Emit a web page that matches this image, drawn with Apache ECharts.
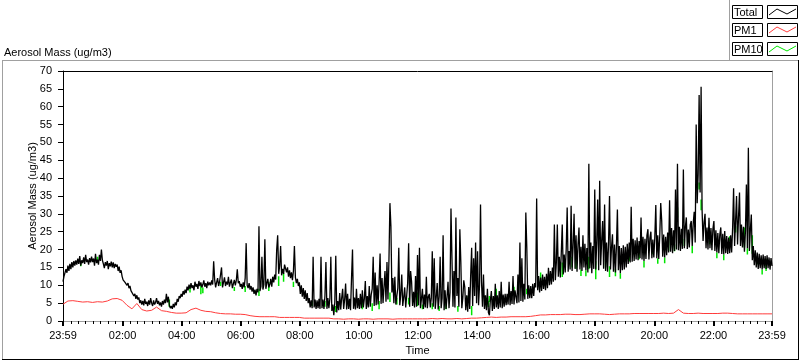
<!DOCTYPE html>
<html>
<head>
<meta charset="utf-8">
<script src="https://cdn.jsdelivr.net/npm/echarts@6/dist/echarts.min.js"></script>
<style>
html,body{margin:0;padding:0;background:#fff;}
#chart{width:800px;height:361px;}
</style>
</head>
<body>
<div id="chart"></div>
<script>
// ---------------- DATA ----------------
// Total aerosol mass, 2-minute samples from 23:59 (t=-1 min) to 23:59 (t=1439 min)
const totalStart = -1;
const totalStep = 2;
const totalValues = [
  // 00h
  11, 12.5, 13, 14.5, 13.5, 15.5, 14, 16, 14.5, 16.5, 15, 16.8, 15.5, 17, 15.8, 17.5, 16, 18.2, 15.5, 17, 16.2, 17.8, 16, 18.5, 16.5, 17.2, 15.8, 17.6, 16.4, 18,
  // 01h
  16.5, 17.5, 15.5, 18.8, 16.2, 17.2, 15.8, 18.5, 16.8, 20, 17, 16, 14.8, 16.5, 15.5, 16.8, 14.5, 16.2, 15.3, 16.6, 15, 16.4, 14.8, 16, 15.2, 15.8, 14, 15.2, 13.5, 14.2,
  // 02h
  12.5, 11.5, 12, 10.8, 11.2, 10, 10.6, 9.2, 9.8, 8.5, 8, 8.8, 7, 7.6, 6.2, 7.2, 6, 6.6, 5, 5.8, 4.6, 5.6, 4.4, 6.2, 4.8, 5.4, 4.2, 5.8, 4.6, 6.4,
  // 03h
  5, 4.2, 5.8, 4.6, 5.2, 6.4, 4.8, 5.6, 4.4, 5.2, 4, 5.6, 4.6, 6, 5, 7.6, 5.2, 6.8, 4.4, 3.6, 4.2, 3.4, 4.8, 3.8, 5.2, 4.4, 6.2, 5.4, 7, 6.4,
  // 04h
  7.6, 6.8, 8.4, 7.4, 8.8, 7.8, 9.6, 8.6, 10.2, 9, 10.6, 9.2, 10, 8.6, 11, 9.6, 10.4, 9, 11.2, 9.8, 10.8, 9.4, 10.2, 11.4, 9.6, 10.6, 9.2, 11, 10, 10.8,
  // 05h
  10, 11.4, 10.2, 16.7, 11.6, 9.4, 10.8, 12, 9.8, 11, 10.6, 15, 9.4, 10.8, 12.2, 9.8, 11, 10.2, 12.4, 9.6, 10.8, 11.6, 9.2, 10.4, 11.5, 10, 11.4, 14.5, 10.6, 11.2,
  // 06h
  9.6, 10.4, 9, 10.8, 9.4, 12, 21.8, 10, 9.2, 10.6, 8.8, 9.8, 8.2, 9.4, 7.6, 8.8, 7.2, 9, 8, 26.5, 8.4, 9.6, 18, 8.8, 10.2, 22.9, 9, 10.6, 11.8, 9.4,
  // 07h
  10.2, 11.8, 9.6, 12.4, 10.8, 13, 11.6, 20, 24, 13.2, 15.4, 21, 12.8, 14.6, 13.2, 15.8, 16, 13.6, 15, 12.4, 14.2, 12, 13.6, 11.4, 14, 21, 12.2, 10.6, 11.8, 9.8,
  // 08h
  10.8, 7.6, 10, 6.8, 9.2, 6.2, 8.6, 5.6, 7.8, 5, 6.4, 3.8, 5.8, 3.6, 18, 3.8, 6, 3.4, 5.8, 3.6, 6.2, 3.4, 18, 3.6, 6, 3.4, 7, 16.5, 3.4, 6.4,
  // 09h
  3.6, 6.2, 18, 2.8, 4.6, 1.6, 5.2, 18.3, 2.4, 5.6, 3, 7.8, 3.2, 6.4, 9, 3.4, 6, 10.5, 3.2, 7.6, 3.4, 6.2, 3, 12, 20, 3.4, 6.6, 3.2, 9, 3.6,
  // 10h
  6.4, 3.4, 7.6, 3.6, 8.6, 3.8, 6.2, 11.2, 3.4, 7, 3.8, 9.8, 4, 7.4, 9, 18, 4.2, 13.6, 4.4, 10, 4.6, 11, 18.9, 4.8, 12, 5, 9.6, 14, 5.4, 16.5,
  // 11h
  6, 17, 33, 26.5, 8, 12, 5, 12.4, 4.6, 7, 9.2, 20.5, 4.4, 7.4, 13, 4.2, 6.6, 9.4, 3.8, 7, 10.6, 21.8, 4, 14, 11, 4.2, 8.2, 3.8, 12.6, 4,
  // 12h
  18.5, 4.4, 20.5, 3.6, 6.2, 9, 3.4, 7.4, 3.8, 12.4, 3.6, 6.8, 7.6, 3.8, 6.4, 19.5, 4, 17.6, 3.4, 6.6, 10.6, 3.2, 6.8, 18, 3.6, 6.4, 24, 3, 8.6, 3.4,
  // 13h
  6.8, 11, 3.6, 8, 31.5, 17.6, 4, 14, 3.8, 29, 7, 12, 4, 25.7, 16.5, 3.6, 6.4, 11.4, 9.5, 3, 7.2, 2.6, 9.5, 3.4, 12.8, 20.5, 4.2, 17.6, 7, 22,
  // 14h
  5, 19.5, 4.4, 10, 32.6, 11, 4, 13, 3.4, 7.2, 3, 9, 2.4, 1.6, 5.8, 8.4, 2.8, 7, 3.4, 10.4, 3.8, 7.2, 3.4, 8.4, 3.8, 11, 3.6, 7.4, 4, 7.6,
  // 15h
  4.4, 7.6, 4.6, 11, 4.4, 8.4, 4.8, 12.6, 4.6, 8.6, 9, 5, 13, 5.2, 22, 5.6, 17.6, 5.4, 10.4, 6, 30.4, 20.5, 6.2, 10, 6.4, 9.8, 6.4, 10.4, 7, 10.6,
  // 16h
  9.4, 34.3, 8.6, 12.6, 8, 12.2, 8.4, 13, 9, 12.4, 8.6, 13.2, 9.2, 14.9, 10, 14, 10.2, 15, 11, 27, 11.4, 16.4, 27, 12.4, 18, 12.2, 19, 27, 13, 18.6,
  // 17h
  13.6, 20, 31.8, 13.8, 19.6, 14.4, 32.3, 14, 21, 30, 14.6, 24, 13.8, 21.4, 26.2, 14.4, 20.8, 14, 24, 15, 21.6, 14.2, 20.4, 13.6, 44, 14.8, 22, 13.4, 21, 14.6,
  // 18h
  36.8, 14.4, 22, 34, 14.2, 39.3, 15.6, 22.4, 28, 14.6, 32.6, 14, 22, 13.8, 21.6, 35, 14.4, 20.6, 24.3, 13.8, 21.4, 13.6, 20.8, 31.2, 14.2, 21, 13.4, 20.4, 14.2, 21.2,
  // 19h
  14.4, 20.8, 15, 21.6, 16, 22, 16.4, 32, 16.6, 23, 16.8, 22.6, 17.2, 23.4, 17, 22.4, 17.6, 29, 17.2, 23.6, 16.8, 23, 17.4, 24, 25.7, 17.2, 23.2, 25, 17.6, 22.8,
  // 20h
  17.8, 23.6, 32.5, 17.6, 24, 17.4, 23.8, 33, 28, 18, 24.2, 17.8, 23.6, 18.4, 24.8, 19.2, 33.8, 19.4, 26, 19, 25.4, 19.6, 36.8, 20, 44, 19.8, 26.4, 19.6, 25.8, 20.2,
  // 21h
  42.4, 20.4, 26.2, 29, 20.2, 25.6, 20.6, 27, 28, 21, 27.4, 30.6, 22, 55, 33, 41, 63.3, 36, 65.6, 31, 22.4, 27.6, 30, 20.4, 26.2, 20, 28.9, 20.4, 26, 19.8,
  // 22h
  25.8, 28, 19.6, 25.4, 19.2, 24.6, 19, 24.2, 26.2, 18.8, 24.4, 18.6, 25.2, 19, 23.8, 18.8, 23.4, 19, 24, 19.2, 26, 37.2, 21, 28, 35, 21.4, 29, 36, 21, 27,
  // 23h
  20.6, 26.4, 19.4, 25, 38.2, 20.4, 48.5, 19.6, 25.4, 29.8, 17, 21, 15.6, 19.8, 15, 19.2, 14.6, 18.8, 14.8, 18.4, 14.4, 18.6, 14.8, 18.2, 14.6, 18.4, 14.8, 17.8, 14.4, 17.6, 15.4
];

// PM1, 10-minute samples from 23:59 to 23:59
const pm1Start = -1;
const pm1Step = 10;
const pm1Values = [
  4.7, 5.6, 5.7, 5.5, 5.3, 5.4, 5.2, 5.4, 5.3, 5.6,
  6.2, 6.3, 5.8, 4.4, 3.4, 4.9, 3.2, 2.8, 3.0, 3.9,
  2.9, 2.7, 2.4, 2.2, 2.2, 2.3, 3.2, 3.6, 3.0, 2.7,
  2.6, 2.3, 2.1, 2.0, 2.0, 1.9, 1.9, 1.8, 1.5, 1.3,
  1.2, 1.2, 1.2, 1.2, 1.0, 1.0, 1.0, 1.0, 1.0, 0.8,
  0.8, 0.8, 0.8, 0.8, 0.8, 0.6, 0.6, 0.5, 0.6, 0.6,
  0.5, 0.6, 0.6, 0.5, 0.6, 0.6, 0.6, 0.5, 0.6, 0.6,
  0.6, 0.6, 0.6, 0.6, 0.6, 0.7, 0.6, 0.7, 0.6, 0.6,
  0.7, 0.6, 0.7, 0.8, 0.8, 0.9, 1.0, 1.1, 1.0, 1.1,
  1.1, 1.2, 1.2, 1.2, 1.2, 1.3, 1.5, 1.7, 1.7, 1.8,
  1.8, 1.8, 1.9, 1.9, 1.8, 1.8, 1.9, 2.0, 2.0, 2.0,
  1.9, 1.8, 1.9, 2.0, 2.0, 2.0, 2.1, 2.1, 2.1, 2.1,
  2.1, 2.1, 2.2, 2.1, 2.2, 3.2, 2.2, 2.1, 2.1, 2.2,
  2.1, 2.1, 2.1, 2.1, 2.2, 2.2, 2.1, 2.0, 2.0, 2.0,
  2.0, 2.0, 2.0, 2.0, 2.0
];

// PM10: where it shows below the Total trace (minute, upper value, lower value)
const pm10Times = [35, 69, 215, 257, 279, 283, 319, 347, 369, 397, 417, 437, 447, 467, 505, 531, 553, 579, 607, 627, 641, 663, 677, 701, 719, 729, 749, 763, 777, 801, 819, 829, 863, 865, 879, 915, 941, 969, 1013, 1033, 1041, 1051, 1061, 1067, 1081, 1101, 1109, 1121, 1131, 1149, 1169, 1179, 1197, 1207, 1221, 1229, 1241, 1247, 1261, 1277, 1291, 1295, 1313, 1327, 1341, 1353, 1365, 1383, 1389, 1399, 1409, 1419, 1427];
const pm10Upper = [16.7, 18, 6, 9.5, 9.8, 9.4, 11, 9.5, 9.8, 9, 10.9, 12.5, 13.4, 11, 5.6, 5.6, 4.2, 5.6, 5.6, 5, 5.6, 8, 6.5, 6.5, 8, 4.6, 5, 4.2, 5, 4.2, 7, 4.2, 5.6, 7, 9, 9.6, 9, 13.6, 16.4, 18, 17.2, 14.4, 14.2, 18, 16.7, 17.3, 15.3, 14.6, 13.4, 18.7, 20.6, 16.8, 20, 17.6, 17.8, 23.4, 21.4, 31.8, 23, 21, 38.8, 34, 24, 19.2, 18.6, 23.7, 26.5, 26.2, 20.4, 24, 17.8, 14.4, 17.3];
const pm10Lower = [15.3, 16.4, 3.9, 8, 7.5, 7.8, 9.8, 8.4, 8.1, 7, 8.4, 9.8, 11, 9.5, 4.2, 4, 2.5, 4.2, 3.3, 2.8, 3.3, 5.3, 4.6, 4.6, 4.2, 3.3, 3.3, 2.8, 3.3, 2.6, 4.6, 1.6, 3.9, 5.3, 5.6, 7.2, 7.5, 11, 12.3, 15, 14.6, 12.6, 12.5, 14.5, 11.7, 15, 12.3, 12.5, 11.8, 16.7, 17.3, 15, 18.7, 16, 16.2, 19.5, 19.5, 29, 21, 19, 36.8, 31, 21.5, 17.6, 17, 22.3, 24.8, 20.6, 18.6, 18.8, 15.9, 13, 14];

// Axis ticks
const yMin = 0, yMax = 70, yStep = 5;
const xMin = -1, xMax = 1439;
const xMajorTicks = [-1, 120, 240, 360, 480, 600, 720, 840, 960, 1080, 1200, 1320, 1439];
const xTickLabels = ['23:59', '02:00', '04:00', '06:00', '08:00', '10:00', '12:00', '14:00', '16:00', '18:00', '20:00', '22:00', '23:59'];
const xMinorStep = 15;

const legendNames = ['Total', 'PM1', 'PM10'];
const colors = { Total: '#000000', PM1: '#ff3c3c', PM10: '#00e600' };

// ---------------- BUILD ----------------
const totalData = totalValues.map((v, i) => [totalStart + i * totalStep, v]);
const pm1Data = pm1Values.map((v, i) => [pm1Start + i * pm1Step, v]);
const pm10Data = [];
pm10Times.forEach((t, i) => {
  pm10Data.push([t, pm10Upper[i]]);
  pm10Data.push([t, pm10Lower[i]]);
  pm10Data.push(null);
});
const minorTicks = [];
for (let t = xMinorStep; t < xMax; t += xMinorStep) minorTicks.push(t);

const FONT = 'Liberation Sans';
const chart = echarts.init(document.getElementById('chart'), null, { renderer: 'canvas' });

const legendRows = [5, 23, 42];
const graphics = [
  // outer frame
  { type: 'line', shape: { x1: 2, y1: 60.5, x2: 798, y2: 60.5 }, style: { stroke: '#a0a0a0', lineWidth: 1 } },
  { type: 'line', shape: { x1: 2.5, y1: 60, x2: 2.5, y2: 360 }, style: { stroke: '#a0a0a0', lineWidth: 1 } },
  { type: 'line', shape: { x1: 798.5, y1: 60, x2: 798.5, y2: 360 }, style: { stroke: '#000', lineWidth: 1 } },
  { type: 'line', shape: { x1: 2, y1: 359.5, x2: 799, y2: 359.5 }, style: { stroke: '#000', lineWidth: 1 } },
  // legend panel edge
  { type: 'line', shape: { x1: 729.5, y1: 0, x2: 729.5, y2: 60 }, style: { stroke: '#a0a0a0', lineWidth: 1 } }
];
legendNames.forEach((name, r) => {
  const top = legendRows[r];
  graphics.push({ type: 'rect', shape: { x: 732.5, y: top + 0.5, width: 30, height: 13 }, style: { fill: '#fff', stroke: '#000', lineWidth: 1 } });
  graphics.push({ type: 'text', style: { text: name, x: 734, y: top + 7.5, verticalAlign: 'middle', font: '11px "' + FONT + '"', fill: '#000' } });
  graphics.push({ type: 'rect', shape: { x: 767.5, y: top + 0.5, width: 30, height: 13 }, style: { fill: '#fff', stroke: '#000', lineWidth: 1 } });
  graphics.push({ type: 'polyline', shape: { points: [[769, top + 10], [777, top + 4], [787, top + 9], [796, top + 4]] }, style: { stroke: colors[name], lineWidth: 1, fill: null } });
});

const option = {
  animation: false,
  backgroundColor: '#fff',
  textStyle: { fontFamily: FONT },
  title: {
    text: 'Aerosol Mass (ug/m3)', left: 4, top: 47, padding: 0,
    textStyle: { fontSize: 11, fontWeight: 'normal', color: '#000', fontFamily: FONT }
  },
  grid: { left: 63, top: 71, right: 28, bottom: 39, containLabel: false },
  xAxis: [
    {
      type: 'value', min: xMin, max: xMax, position: 'bottom',
      name: 'Time', nameLocation: 'middle', nameGap: 24, nameMoveOverlap: false,
      nameTextStyle: { fontSize: 11, color: '#000', fontFamily: FONT },
      axisLine: { show: true, onZero: false, lineStyle: { color: '#a0a0a0', width: 1 } },
      axisTick: { show: true, customValues: xMajorTicks, length: 5, lineStyle: { color: '#000', width: 2 } },
      axisLabel: {
        show: true, customValues: xMajorTicks, margin: 9, fontSize: 11, color: '#000', fontFamily: FONT,
        formatter: v => xTickLabels[xMajorTicks.indexOf(v)]
      },
      splitLine: { show: false }
    },
    {
      type: 'value', min: xMin, max: xMax, position: 'bottom',
      axisLine: { show: false, onZero: false },
      axisTick: { show: true, customValues: minorTicks, length: 3, lineStyle: { color: '#000', width: 1 } },
      axisLabel: { show: false },
      splitLine: { show: false }
    },
    {
      type: 'value', min: xMin, max: xMax, position: 'top',
      axisLine: { show: true, onZero: false, lineStyle: { color: '#000', width: 1 } },
      axisTick: { show: false }, axisLabel: { show: false }, splitLine: { show: false }
    }
  ],
  yAxis: [
    {
      type: 'value', min: yMin, max: yMax, interval: yStep, position: 'left',
      name: 'Aerosol Mass (ug/m3)', nameLocation: 'middle', nameGap: 25, nameRotate: 90, nameMoveOverlap: false,
      nameTextStyle: { fontSize: 11, color: '#000', fontFamily: FONT },
      axisLine: { show: true, onZero: false, lineStyle: { color: '#000', width: 1 } },
      axisTick: { show: true, length: 5, lineStyle: { color: '#000', width: 1 } },
      axisLabel: { margin: 11, fontSize: 11, color: '#000', fontFamily: FONT },
      splitLine: { show: false }
    },
    {
      type: 'value', min: yMin, max: yMax, position: 'right',
      axisLine: { show: true, onZero: false, lineStyle: { color: '#a0a0a0', width: 1 } },
      axisTick: { show: false }, axisLabel: { show: false }, splitLine: { show: false }
    }
  ],
  series: [
    {
      name: 'PM10', type: 'line', xAxisIndex: 0, yAxisIndex: 0, data: pm10Data,
      showSymbol: false, symbol: 'none', connectNulls: false,
      lineStyle: { color: colors.PM10, width: 1.5 }, z: 2
    },
    {
      name: 'PM1', type: 'line', xAxisIndex: 0, yAxisIndex: 0, data: pm1Data,
      showSymbol: false, symbol: 'none',
      lineStyle: { color: colors.PM1, width: 1 }, z: 3
    },
    {
      name: 'Total', type: 'line', xAxisIndex: 0, yAxisIndex: 0, data: totalData,
      showSymbol: false, symbol: 'none',
      lineStyle: { color: colors.Total, width: 1.3 }, z: 4
    }
  ],
  graphic: graphics
};
chart.setOption(option);
</script>
</body>
</html>
